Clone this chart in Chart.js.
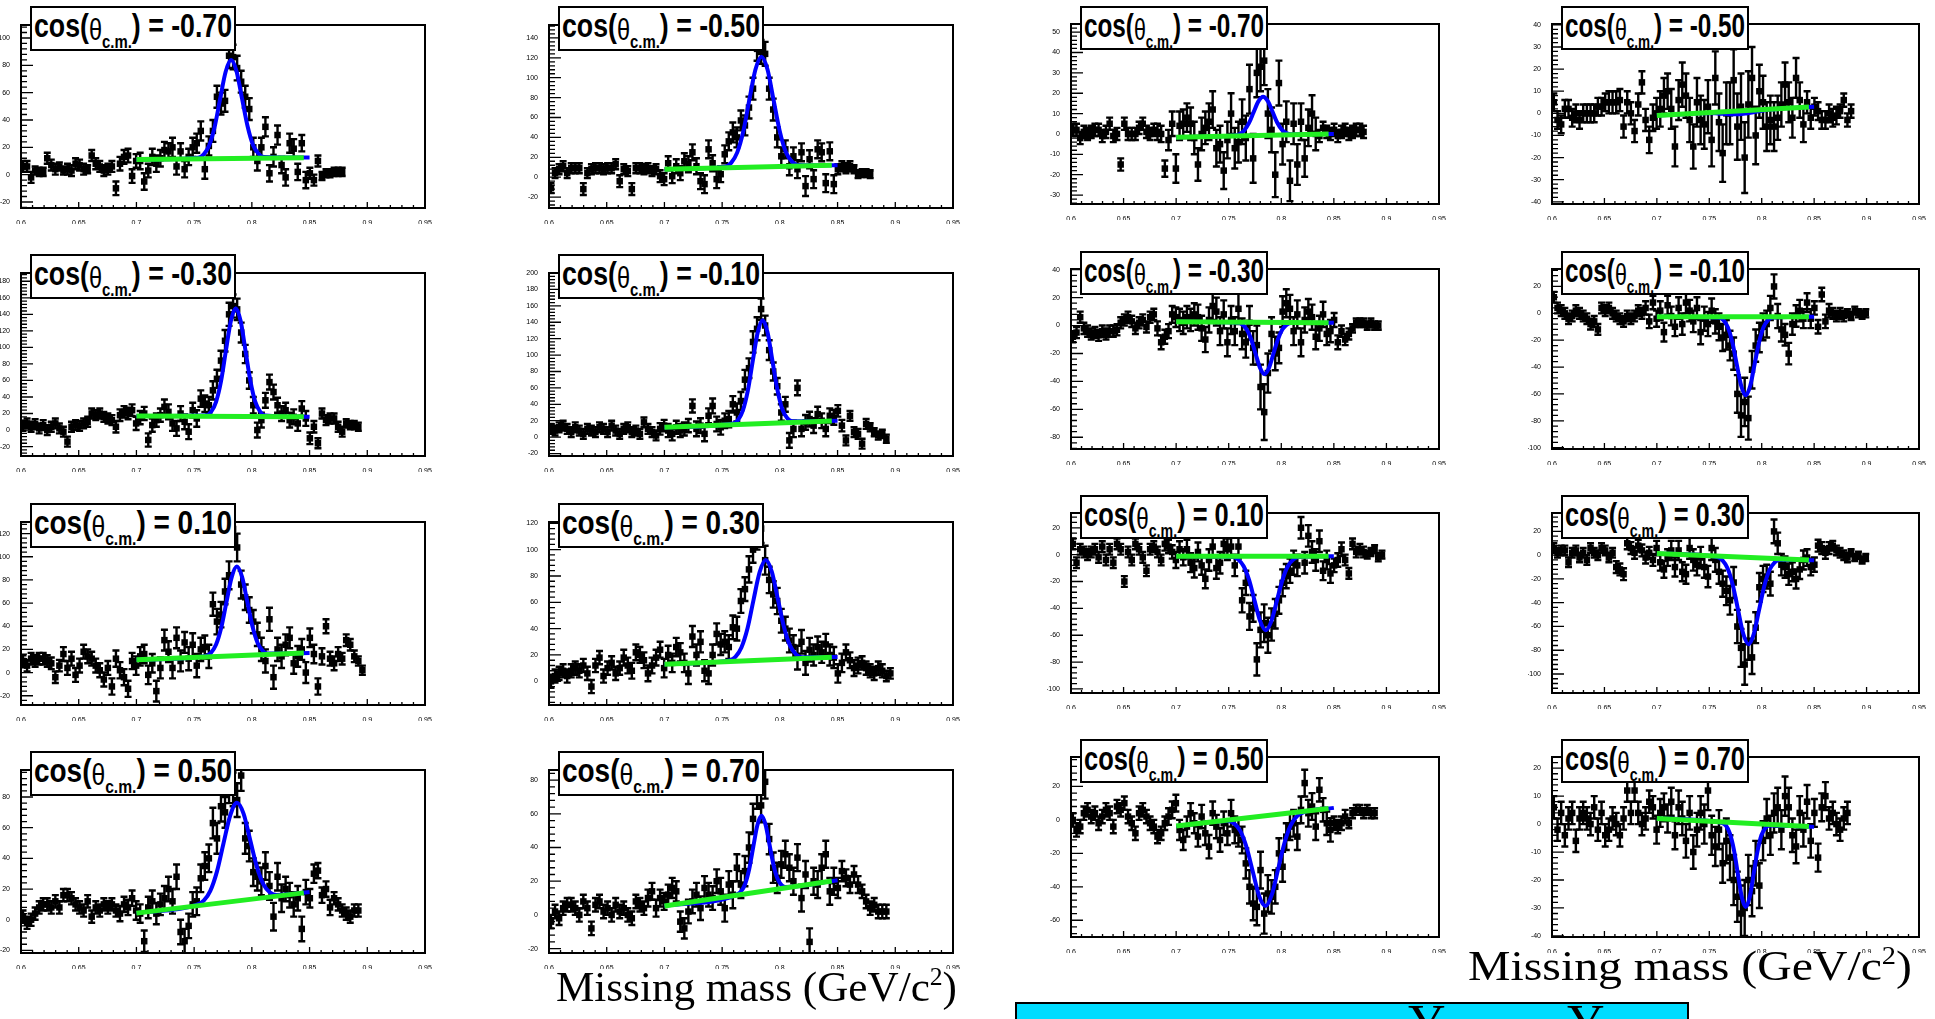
<!DOCTYPE html>
<html>
<head>
<meta charset="utf-8">
<title>Missing mass spectra</title>
<script src="https://cdn.jsdelivr.net/npm/chart.js@4.4.1/dist/chart.umd.min.js"></script>
<style>
  html, body { margin: 0; padding: 0; background: #fff; }
  #page { position: relative; width: 1935px; height: 1019px; overflow: hidden; background: #fff; }
  .pad { position: absolute; }
  .pad canvas { display: block; }
  .tag { position: absolute; z-index: 5; background: #fff; border: 2px solid #000; box-sizing: border-box; overflow: hidden; }
  .tag .tx { position: absolute; left: 2px; top: 0px; white-space: nowrap; transform-origin: 0 0;
             font-family: "Liberation Sans Narrow", "Liberation Sans", Arial, sans-serif;
             font-weight: bold; font-size: 34px; line-height: 34px; color: #000; }
  .tag .th { font-weight: normal; font-size: 30px; vertical-align: -3px; font-family: "Liberation Sans", Arial, sans-serif; }
  .tag .sb { font-size: 19px; vertical-align: -11px; }
  .title { position: absolute; z-index: 5; white-space: nowrap; transform-origin: 0 0;
           font-family: "Liberation Serif", "Times New Roman", serif; font-size: 42px; line-height: 42px; color: #000; }
  .title sup { font-size: 25px; vertical-align: 16px; line-height: 0; }
  #note { position: absolute; z-index: 5; left: 1015px; top: 1002px; width: 674px; height: 40px;
          box-sizing: border-box; background: #00dcff; border: 2px solid #000; overflow: hidden; }
  #note span { position: absolute; top: -6px; font-family: "Liberation Serif", "Times New Roman", serif;
               font-size: 52px; line-height: 52px; color: #000; }
</style>
</head>
<body>
<div id="page">
  <div class="title" data-w="401" style="left:556px; top:966px;">Missing mass (GeV/c<sup>2</sup>)</div>
  <div class="title" data-w="444" style="left:1468px; top:945px;">Missing mass (GeV/c<sup>2</sup>)</div>
  <div id="note"><span style="left:391px;">Y</span><span style="left:550px;">Y</span></div>
</div>
<script>
// histogram binning shared by all spectra (GeV/c^2)
const binLow = 0.6, binWidth = 0.0035;
const massTicks = [0.6, 0.65, 0.7, 0.75, 0.8, 0.85, 0.9, 0.95];
const cosLabels = ['-0.70', '-0.50', '-0.30', '-0.10', '0.10', '0.30', '0.50', '0.70'];
const bkgRange = [0.70, 0.845];

// ---- set A: yields with the peak ----
const countsA_m070 = [6,6,-2,3,2,2,12,7,4,6,
  3,4,3,8,7,4,4,14,8,6,
  3,4,6,-10,8,13,14,-1,10,10,
  -5,3,13,8,12,18,17,20,6,17,
  4,13,20,23,32,4,21,32,57,52,
  54,87,86,78,68,57,48,20,10,20,
  35,1,13,29,7,-2,23,19,2,23,
  -4,1,-4,10,-1,1,1,2,2,2];
const errA_m070 = [4,4,4,3,3,3,4,4,4,3,
  3,4,4,4,4,4,3,4,4,4,
  4,4,4,5,5,5,5,5,5,6,
  6,5,6,6,6,6,6,7,6,6,
  6,6,7,7,7,7,7,8,8,8,
  8,9,9,9,8,8,8,7,7,7,
  7,6,7,7,6,6,7,7,6,6,
  6,4,4,4,3,3,3,3,3,3];
const fitXA_m070 = [0.70,0.7535,0.7583,0.763,0.7678,0.7725,0.7773,0.782,0.7868,0.7915,0.7963,0.801,0.8058,0.8105,0.85];
const fitYA_m070 = [11,12.3,14.8,21.3,35.1,55.4,75.3,83.8,75.4,55.6,35.4,21.7,15.3,12.9,12.5];
const bkgA_m070 = [11, 12.45];

const countsA_m050 = [-11,4,8,11,4,9,9,9,-12,4,
  8,9,9,8,9,9,13,-4,8,6,
  -12,9,9,8,9,6,8,1,-2,14,
  1,11,4,16,13,25,11,-4,-7,28,
  14,-2,3,23,36,45,40,57,52,70,
  89,129,126,124,89,68,40,21,28,11,
  21,8,25,-9,18,-2,28,25,-6,26,
  -7,8,11,9,11,8,3,4,4,3];
const errA_m050 = [5,5,5,5,5,5,5,5,6,5,
  5,5,5,5,5,5,5,6,5,5,
  6,5,5,5,5,5,5,6,6,7,
  7,7,7,8,8,8,8,8,9,9,
  8,9,8,9,9,10,10,10,10,11,
  11,12,12,12,11,11,10,9,9,9,
  9,9,9,10,9,9,9,9,9,9,
  9,5,5,5,5,4,4,4,4,4];
const fitXA_m050 = [0.70,0.7525,0.7578,0.763,0.7683,0.7735,0.7788,0.784,0.7893,0.7945,0.7998,0.805,0.8103,0.8155,0.85];
const fitYA_m050 = [8,10.6,14.4,24.7,45.9,77.4,108.0,121.2,108.3,77.9,46.8,25.8,15.8,12.3,12];
const bkgA_m050 = [8, 11.87];

const countsA_m030 = [5,8,4,7,2,6,0,4,8,2,
  -2,-14,4,6,5,8,10,20,18,20,
  16,14,12,4,18,22,20,24,8,15,
  20,-12,6,12,18,28,22,8,2,20,
  10,-2,24,14,38,32,30,48,62,84,
  108,140,150,146,118,92,60,30,0,12,
  36,58,46,30,20,24,12,16,8,26,
  14,-10,4,-16,20,12,14,14,4,-2,
  8,6,6,4];
const errA_m030 = [6,6,6,6,6,6,6,6,6,6,
  6,6,6,6,6,6,6,6,6,6,
  6,6,6,7,7,7,7,7,8,8,
  8,8,8,8,8,9,9,9,9,9,
  9,9,9,10,10,10,10,11,11,12,
  13,14,14,13,12,11,10,10,9,9,
  9,9,9,9,9,9,9,9,9,9,
  9,7,7,6,6,6,6,6,6,6,
  5,5,5,5];
const fitXA_m030 = [0.70,0.7605,0.7648,0.769,0.7733,0.7775,0.7818,0.786,0.7903,0.7945,0.7988,0.803,0.8073,0.8115,0.85];
const fitYA_m030 = [17,18.0,22.3,34.2,59.1,96.0,132.0,147.4,131.9,95.9,58.9,34.0,22.0,17.7,16];
const bkgA_m030 = [17, 16.03];

const countsA_m010 = [10,8,12,14,10,6,12,8,4,10,
  8,6,12,10,6,14,8,4,10,12,
  6,8,4,18,10,6,2,10,14,8,
  4,12,8,10,14,38,10,14,4,26,
  38,16,12,20,22,40,30,44,70,84,
  116,132,156,136,106,80,62,30,40,-4,
  10,60,10,18,22,14,28,20,10,26,
  24,32,14,-4,26,6,4,-8,16,12,
  6,2,4,-2];
const errA_m010 = [6,6,6,6,6,6,6,6,6,6,
  6,6,6,6,6,6,6,6,6,6,
  6,6,6,6,6,6,6,7,7,8,
  8,8,8,8,8,8,9,9,9,9,
  9,9,9,9,10,10,11,11,12,12,
  13,14,13,12,12,11,10,10,9,9,
  10,9,9,9,9,9,9,9,9,9,
  9,7,7,6,6,6,6,6,6,5,
  5,5,5,5];
const fitXA_m010 = [0.70,0.7595,0.7638,0.768,0.7723,0.7765,0.7808,0.785,0.7893,0.7935,0.7978,0.802,0.8063,0.8105,0.85];
const fitYA_m010 = [12,16.6,20.9,32.6,56.9,92.6,127.4,142.5,127.9,93.5,58.2,34.4,23.2,19.3,20];
const bkgA_m010 = [12, 19.73];

const countsA_p010 = [10,6,12,10,12,12,10,8,-4,6,
  16,4,12,-2,6,18,14,12,6,2,
  -6,4,-12,12,2,-4,-14,10,6,14,
  16,-2,8,-16,4,28,18,4,30,10,
  26,12,24,6,20,22,14,59,44,50,
  70,84,124,108,76,65,54,44,33,20,
  10,46,-4,20,14,24,30,8,14,20,
  0,30,16,-12,14,40,12,8,16,12,
  28,24,14,10,2];
const errA_p010 = [5,5,5,5,5,5,5,5,5,5,
  6,6,6,6,6,6,6,6,6,6,
  6,6,7,7,7,7,7,7,8,8,
  8,8,8,9,9,9,9,9,9,9,
  9,10,10,10,10,10,10,10,11,11,
  11,12,12,12,12,11,11,10,10,10,
  10,10,10,10,10,9,9,9,9,9,
  9,8,8,7,7,6,6,6,6,5,
  5,5,5,4,4];
const fitXA_p010 = [0.70,0.76,0.7645,0.769,0.7735,0.778,0.7825,0.787,0.7915,0.796,0.8005,0.805,0.8095,0.814,0.85];
const fitYA_p010 = [11,14.3,17.0,24.2,38.9,60.9,82.2,91.5,82.6,61.6,40.0,25.6,18.8,16.4,17];
const bkgA_p010 = [11, 16.8];

const countsA_p030 = [0,4,6,8,4,8,10,8,12,6,
  -4,12,18,4,10,14,6,10,18,12,
  8,22,20,16,6,12,18,24,10,20,
  14,26,22,14,6,34,20,30,8,6,
  20,36,28,30,26,41,40,61,70,85,
  100,110,116,92,77,66,61,46,40,31,
  26,18,30,14,24,20,26,22,28,20,
  18,6,14,22,16,10,12,14,10,8,
  6,10,8,4,6];
const errA_p030 = [5,5,5,5,5,5,5,5,5,5,
  5,5,5,5,5,5,5,5,6,6,
  6,6,6,6,6,6,6,6,7,7,
  7,7,7,7,8,8,8,8,8,8,
  8,8,8,8,9,9,9,9,9,10,
  10,10,11,11,10,10,10,9,9,9,
  9,9,9,9,9,8,8,8,8,8,
  8,7,7,6,6,6,6,5,5,5,
  5,5,5,4,4];
const fitXA_p030 = [0.70,0.7562,0.7615,0.7667,0.772,0.7772,0.7825,0.7877,0.793,0.7982,0.8035,0.8087,0.814,0.8192,0.85];
const fitYA_p030 = [13,15.9,18.6,25.7,40.3,61.9,83.0,92.2,83.4,62.7,41.5,27.3,20.5,18.2,18.5];
const bkgA_p030 = [13, 18.3];

const countsA_p050 = [2,-2,0,4,8,10,10,8,12,8,
  16,16,14,10,8,6,12,2,8,6,
  10,8,10,6,4,10,8,14,6,4,
  -14,8,12,4,10,14,20,12,28,-8,
  -14,-4,10,12,27,35,40,63,53,74,
  70,87,85,78,94,53,48,31,28,25,
  35,22,2,28,14,20,16,10,14,-6,
  18,14,30,32,16,20,8,14,10,6,
  4,2,6,6];
const errA_p050 = [4,4,4,4,4,4,4,4,4,4,
  4,4,4,4,4,4,4,4,4,4,
  4,4,4,4,5,5,5,5,6,6,
  7,7,7,7,7,8,8,8,8,8,
  8,8,8,9,9,9,9,10,10,10,
  10,11,11,11,10,10,10,9,9,9,
  9,9,9,9,9,8,8,8,8,8,
  8,6,6,5,5,5,5,4,4,4,
  4,4,4,4];
const fitXA_p050 = [0.70,0.7525,0.7583,0.764,0.7698,0.7755,0.7813,0.787,0.7928,0.7985,0.8043,0.81,0.8158,0.8215,0.85];
const fitYA_p050 = [4.3,9.8,12.4,18.8,31.5,50.0,68.1,76.3,69.2,52.1,34.6,23.0,17.7,16.1,18];
const bkgA_p050 = [4.3, 17.5];

const countsA_p070 = [-4,2,-2,4,6,6,4,0,8,4,
  -8,6,8,2,4,0,6,2,4,0,
  -2,8,6,4,10,14,4,10,8,12,
  16,14,-4,-8,2,8,12,4,16,12,
  10,20,14,4,18,12,28,18,26,40,
  57,73,65,79,45,28,22,30,36,28,
  20,34,10,24,-16,20,18,28,36,14,
  20,16,26,22,18,24,18,14,8,4,
  6,2,2,2];
const errA_p070 = [4,4,4,4,4,4,4,4,4,4,
  4,4,4,4,4,4,4,4,4,4,
  4,4,4,4,5,5,5,5,5,6,
  6,6,6,6,7,7,7,7,7,7,
  7,7,8,8,8,8,8,8,9,9,
  9,10,10,10,9,9,9,8,8,8,
  8,8,8,8,8,8,8,8,8,8,
  8,6,6,5,5,5,5,4,4,4,
  4,4,4,4];
const fitXA_p070 = [0.70,0.763,0.7665,0.77,0.7735,0.777,0.7805,0.784,0.7875,0.791,0.7945,0.798,0.8015,0.805,0.85];
const fitYA_p070 = [5.3,12.2,14.1,18.5,27.4,40.5,53.2,58.9,53.9,41.9,29.6,21.4,17.6,16.5,20.6];
const bkgA_p070 = [5.3, 20.1];

// ---- set B: yields with the dip ----
const countsB_m070 = [2,2,-2,1,0,1,2,2,-1,1,
  5,-1,0,-15,5,0,0,0,3,5,
  1,0,2,1,0,-17,-3,5,-17,4,
  5,8,5,-2,-15,0,3,6,12,-7,
  -5,-18,-3,10,-7,-4,6,-2,22,-12,
  30,33,36,10,2,-20,25,-5,6,-23,
  5,-15,6,-12,3,10,0,-1,3,1,
  0,2,-1,1,2,0,1,2,2,1];
const errB_m070 = [3,3,3,3,3,3,3,3,3,3,
  3,3,3,3,3,3,3,3,3,3,
  3,3,3,4,4,4,5,6,7,7,
  7,7,8,8,8,8,8,9,9,9,
  9,9,9,10,10,10,11,11,12,12,
  12,12,12,12,11,11,11,10,10,10,
  10,10,9,9,9,9,8,3,3,3,
  3,3,3,3,3,3,3,3,3,3];
const fitXB_m070 = [0.70,0.7557,0.7602,0.7647,0.7692,0.7737,0.7782,0.7827,0.7872,0.7917,0.7962,0.8007,0.8052,0.8097,0.85];
const fitYB_m070 = [-1.6,-0.8,-0.1,1.7,5.3,10.7,16.0,18.3,16.1,10.9,5.5,2.0,0.3,-0.2,0];
const bkgB_m070 = [-1.6, -0.05];

const countsB_m050 = [5,-3,-5,2,2,-2,0,-3,0,0,
  0,0,3,3,5,5,5,5,6,-6,
  5,0,-8,4,14,-3,-12,-2,0,2,
  8,10,2,-15,6,13,8,-3,-15,5,
  -3,-5,3,-12,16,-4,-18,0,0,15,
  -6,3,-20,4,16,-10,10,5,-6,-3,
  -6,-2,4,13,5,-2,16,6,-5,5,
  -2,3,1,-3,-3,0,-2,-1,1,6,
  -3,1];
const errB_m050 = [4,4,4,4,4,4,4,4,4,4,
  4,4,4,4,4,5,5,5,5,5,
  5,5,5,5,5,5,6,6,7,8,
  8,8,9,9,9,10,10,10,10,11,
  11,11,12,12,12,13,13,14,14,14,
  15,15,16,15,14,13,12,12,11,11,
  11,10,10,10,9,9,9,8,8,5,
  5,4,4,4,4,4,4,4,3,3,
  3,3];
const fitXB_m050 = [0.70,0.733,0.7405,0.748,0.7555,0.763,0.7705,0.778,0.7855,0.793,0.8005,0.808,0.8155,0.823,0.85];
const fitYB_m050 = [-1,-0.14,0.01,0.08,-0.01,-0.23,-0.44,-0.42,-0.04,0.57,1.19,1.68,2.01,2.26,3];
const bkgB_m050 = [-1, 2.87];

const countsB_m030 = [-8,-5,6,-2,-4,-6,-5,-7,-4,-6,
  -4,-4,-3,2,4,6,3,-2,2,4,
  -1,6,8,-2,-12,-8,-4,8,6,4,
  2,6,4,8,6,-2,-10,4,14,10,
  -4,8,-12,4,-4,12,-6,-12,2,-16,
  -14,-44,-62,-34,-6,-20,-16,10,16,12,
  -4,8,-12,4,10,6,-8,-2,8,-6,
  -4,4,-12,-4,-10,-6,-2,2,2,2,
  0,2,0,0];
const errB_m030 = [4,4,4,4,4,4,4,4,4,4,
  4,4,4,4,4,4,4,4,4,4,
  4,4,4,5,5,5,5,6,7,8,
  8,8,8,8,9,9,9,9,10,10,
  10,10,10,10,10,11,11,11,12,12,
  14,16,20,14,12,12,11,11,10,10,
  10,10,10,9,9,9,9,9,9,8,
  8,5,5,4,4,4,3,3,3,3,
  3,3,3,3];
const fitXB_m030 = [0.70,0.7585,0.7628,0.767,0.7713,0.7755,0.7798,0.784,0.7883,0.7925,0.7968,0.801,0.8053,0.8095,0.85];
const fitYB_m030 = [2.7,2.0,0.8,-2.6,-9.6,-20.1,-30.3,-34.7,-30.3,-20.2,-9.8,-2.8,0.6,1.8,2];
const bkgB_m030 = [2.7, 2.02];

const countsB_m010 = [12,4,2,0,-4,-2,2,0,-2,-4,
  -8,-6,-12,4,2,4,0,-2,-4,-6,
  -2,-4,-2,2,0,4,-6,8,-4,2,
  -14,6,-2,-10,4,-8,8,2,-6,4,
  -14,-4,-8,2,-6,-10,-18,-16,-24,-30,
  -60,-76,-66,-78,-42,-24,-18,-10,-8,4,
  20,-2,-12,-16,-30,-8,-2,2,-4,8,
  -4,4,-10,14,-6,2,0,-2,0,-2,
  0,-2,2,0,-1,0];
const errB_m010 = [4,4,4,4,4,4,4,4,4,4,
  4,4,4,4,4,4,4,4,4,4,
  4,4,4,4,4,5,5,5,6,7,
  7,7,7,7,8,8,8,8,8,8,
  9,9,9,9,9,10,10,11,11,12,
  14,16,18,16,14,12,11,10,10,9,
  9,9,9,8,8,8,8,8,7,7,
  7,5,5,5,5,5,4,4,4,4,
  3,3,3,3,3,3];
const fitXB_m010 = [0.70,0.7592,0.7635,0.7677,0.772,0.7762,0.7805,0.7847,0.789,0.7932,0.7975,0.8017,0.806,0.8102,0.85];
const fitYB_m010 = [-2.5,-3.1,-5.1,-10.4,-21.5,-38.0,-54.1,-61.0,-54.1,-38.0,-21.5,-10.4,-5.1,-3.1,-2.5];
const bkgB_m010 = [-2.5, -2.5];

const countsB_p010 = [8,-6,4,2,0,2,4,-2,6,-4,
  4,-6,8,4,-20,2,-4,8,4,-2,
  -12,4,6,2,-4,8,6,2,-4,4,
  -2,4,-6,-10,2,-8,-18,-4,6,-10,
  -6,8,4,6,-8,6,-34,-21,-46,-40,
  -78,-56,-51,-60,-52,-44,-34,-21,-16,-12,
  -6,-8,20,-6,14,2,-4,10,-12,-4,
  -14,-8,-4,4,-4,-14,8,2,4,2,
  0,2,4,-2,0];
const errB_p010 = [4,4,4,4,4,4,4,4,4,4,
  4,4,4,4,4,4,4,4,4,4,
  4,4,4,4,4,5,5,5,6,6,
  6,7,7,7,7,7,7,8,8,8,
  8,8,8,8,8,9,9,9,10,10,
  12,13,14,13,12,11,10,10,9,9,
  9,8,8,8,8,8,8,8,7,7,
  7,5,5,5,4,4,4,4,4,4,
  3,3,3,3,3];
const fitXB_p010 = [0.70,0.7537,0.759,0.7642,0.7695,0.7747,0.78,0.7852,0.7905,0.7957,0.801,0.8062,0.8115,0.8167,0.85];
const fitYB_p010 = [-1.2,-1.8,-3.6,-8.6,-19.1,-34.6,-49.7,-56.2,-49.7,-34.6,-19.1,-8.6,-3.6,-1.8,-1.2];
const bkgB_p010 = [-1.2, -1.2];

const countsB_p030 = [6,2,4,4,-6,2,4,-2,2,-4,
  6,2,0,6,4,-2,2,-10,-12,-16,
  10,6,2,8,4,-2,2,-4,6,-6,
  -12,-2,4,-10,4,-14,-16,6,-4,-8,
  -2,-10,-18,6,-4,-14,-24,-30,-38,-23,
  -60,-78,-92,-72,-86,-61,-27,-20,-18,-24,
  20,10,-8,-10,-16,-14,-20,-12,-4,-2,
  -10,-8,8,6,2,6,8,4,2,0,
  -2,2,-2,0,-4,-2];
const errB_p030 = [4,4,4,4,4,4,4,4,4,4,
  4,4,4,4,4,4,4,5,5,5,
  5,5,5,5,5,5,5,5,6,7,
  7,7,8,8,8,8,8,9,9,9,
  9,9,9,10,10,10,11,12,12,13,
  14,16,17,16,14,13,12,11,10,10,
  10,9,9,9,9,8,8,8,8,7,
  7,6,5,5,5,5,4,4,4,4,
  4,3,3,3,3,3];
const fitXB_p030 = [0.70,0.7574,0.7624,0.7674,0.7724,0.7774,0.7824,0.7874,0.7924,0.7974,0.8024,0.8074,0.8124,0.8174,0.85];
const fitYB_p030 = [1.4,-1.5,-4.1,-11.0,-25.0,-45.8,-66.1,-74.9,-66.4,-46.5,-26.1,-12.5,-6.0,-3.8,-4.2];
const bkgB_p030 = [1.4, -4.0];

const countsB_p050 = [0,-6,-4,4,6,2,4,-2,2,6,
  4,-4,8,6,10,2,-2,-8,4,6,
  2,-2,-4,-10,-8,-2,2,6,10,-6,
  -12,-4,4,-2,-10,2,-8,-16,4,-4,
  -12,-2,-8,4,-6,-8,-12,-26,-40,-50,
  -52,-30,-56,-44,-46,-40,-20,-28,-10,-4,
  -2,-10,6,22,4,8,-4,18,6,-2,
  -6,-2,-4,-2,2,-2,4,6,6,4,
  6,4,4];
const errB_p050 = [4,4,4,4,4,4,4,4,4,4,
  4,4,4,4,4,4,4,4,4,4,
  4,4,4,4,4,4,5,5,5,6,
  6,6,6,6,6,7,7,7,7,7,
  7,7,7,8,8,8,8,9,10,10,
  11,11,12,11,10,10,9,9,8,8,
  8,8,8,8,8,8,8,7,7,7,
  7,4,4,4,4,3,3,3,3,3,
  3,3,3];
const fitXB_p050 = [0.70,0.749,0.755,0.761,0.767,0.773,0.779,0.785,0.791,0.797,0.803,0.809,0.815,0.821,0.85];
const fitYB_p050 = [-3.7,-0.7,-2.1,-6.6,-16.4,-31.2,-45.6,-51.5,-44.7,-29.4,-13.8,-3.1,2.3,4.5,7.2];
const bkgB_p050 = [-3.7, 6.84];

const countsB_p070 = [6,-2,4,-4,2,4,-6,2,4,2,
  0,6,-2,4,-4,-2,2,0,-4,2,
  12,4,12,4,0,2,8,6,-2,4,
  6,2,8,-4,6,2,-6,4,-10,-2,
  4,0,12,-4,-8,-2,-14,-6,-12,-20,
  -26,-32,-30,-20,-24,-14,-22,-6,2,-4,
  4,6,-2,10,6,-4,-8,4,-2,8,
  -6,4,-12,6,10,2,4,0,-2,2,
  4];
const errB_p070 = [4,4,4,4,4,4,4,4,4,4,
  4,4,4,4,4,4,4,4,4,4,
  4,4,4,4,4,4,4,4,5,5,
  5,5,5,5,6,6,6,6,6,6,
  6,7,7,7,7,7,7,8,8,9,
  9,10,10,9,9,8,8,7,7,7,
  7,7,7,7,7,6,6,6,6,6,
  6,5,5,5,5,4,4,4,4,4,
  4];
const fitXB_p070 = [0.70,0.7622,0.766,0.7697,0.7735,0.7772,0.781,0.7847,0.7885,0.7922,0.796,0.7997,0.8035,0.8072,0.85];
const fitYB_p070 = [2,0.4,-0.6,-3.4,-9.2,-17.7,-26.1,-29.7,-26.2,-18.1,-9.7,-4.0,-1.4,-0.5,-1];
const bkgB_p070 = [2, -0.9];

// ---- pad layout ----
const AXW = 24, AXH = 16, PADT = 8, PADR = 14;
const colA = [[21, 404], [549, 404]], colB = [[1071, 368], [1552, 367]];
const rowA = [25, 273, 522, 770], rowB = [24, 269, 513, 757];

const setA = [
  [countsA_m070, errA_m070, fitXA_m070, fitYA_m070, bkgA_m070, -24.4, 109.5, 20],
  [countsA_m050, errA_m050, fitXA_m050, fitYA_m050, bkgA_m050, -31, 153, 20],
  [countsA_m030, errA_m030, fitXA_m030, fitYA_m030, bkgA_m030, -31.4, 190, 20],
  [countsA_m010, errA_m010, fitXA_m010, fitYA_m010, bkgA_m010, -23, 200, 20],
  [countsA_p010, errA_p010, fitXA_p010, fitYA_p010, bkgA_p010, -28, 130, 20],
  [countsA_p030, errA_p030, fitXA_p030, fitYA_p030, bkgA_p030, -18, 121, 20],
  [countsA_p050, errA_p050, fitXA_p050, fitYA_p050, bkgA_p050, -21.7, 97.6, 20],
  [countsA_p070, errA_p070, fitXA_p070, fitYA_p070, bkgA_p070, -22.6, 86, 20]
];
const setB = [
  [countsB_m070, errB_m070, fitXB_m070, fitYB_m070, bkgB_m070, -34.4, 54, 10],
  [countsB_m050, errB_m050, fitXB_m050, fitYB_m050, bkgB_m050, -41, 40.4, 10],
  [countsB_m030, errB_m030, fitXB_m030, fitYB_m030, bkgB_m030, -88.4, 40.5, 20],
  [countsB_m010, errB_m010, fitXB_m010, fitYB_m010, bkgB_m010, -101, 33, 20],
  [countsB_p010, errB_p010, fitXB_p010, fitYB_p010, bkgB_p010, -103, 31, 20],
  [countsB_p030, errB_p030, fitXB_p030, fitYB_p030, bkgB_p030, -116, 35.5, 20],
  [countsB_p050, errB_p050, fitXB_p050, fitYB_p050, bkgB_p050, -70, 37.6, 20],
  [countsB_p070, errB_p070, fitXB_p070, fitYB_p070, bkgB_p070, -40.4, 24, 10]
];

// vertical error bars with end caps, drawn under the markers
const errorBars = {
  id: 'errorBars',
  beforeDatasetsDraw(chart) {
    const ds = chart.data.datasets[2];
    const meta = chart.getDatasetMeta(2);
    const { ctx, chartArea: a, scales: { y } } = chart;
    ctx.save();
    ctx.beginPath();
    ctx.rect(a.left, a.top, a.right - a.left, a.bottom - a.top);
    ctx.clip();
    ctx.strokeStyle = '#000';
    ctx.lineWidth = 2.4;
    meta.data.forEach((pt, i) => {
      const v = ds.data[i].y, e = ds.errors[i];
      const top = y.getPixelForValue(v + e), bot = y.getPixelForValue(v - e);
      ctx.beginPath();
      ctx.moveTo(pt.x, top); ctx.lineTo(pt.x, bot);
      ctx.moveTo(pt.x - 3.5, top); ctx.lineTo(pt.x + 3.5, top);
      ctx.moveTo(pt.x - 3.5, bot); ctx.lineTo(pt.x + 3.5, bot);
      ctx.stroke();
    });
    ctx.restore();
  }
};

// frame box plus inward major/minor ticks
const frameTicks = {
  id: 'frameTicks',
  afterDraw(chart) {
    const { ctx, chartArea: a, scales: { x, y } } = chart;
    const step = chart.options.scales.y.yStep;
    ctx.save();
    ctx.strokeStyle = '#000';
    ctx.lineWidth = 1.3;
    ctx.beginPath();
    for (let k = 0; k <= 35; k++) {
      const px = x.getPixelForValue(0.6 + k * 0.01);
      const len = k % 5 === 0 ? 6 : 3;
      ctx.moveTo(px, a.bottom); ctx.lineTo(px, a.bottom - len);
    }
    const minor = step / 5;
    for (let k = Math.ceil(y.min / minor); k * minor <= y.max; k++) {
      const py = y.getPixelForValue(k * minor);
      const len = k % 5 === 0 ? 12 : 6;
      ctx.moveTo(a.left, py); ctx.lineTo(a.left + len, py);
    }
    ctx.stroke();
    ctx.lineWidth = 2;
    ctx.strokeRect(a.left, a.top, a.right - a.left, a.bottom - a.top);
    ctx.restore();
  }
};

const page = document.getElementById('page');

function makeChart(cv, spec) {
  const [counts, errs, fitX, fitY, bkg, yMin, yMax, yStep] = spec;
  const points = counts.map((v, i) => ({ x: binLow + (i + 0.5) * binWidth, y: v }));
  const fit = fitX.map((m, i) => ({ x: m, y: fitY[i] }));
  const back = bkgRange.map((m, i) => ({ x: m, y: bkg[i] }));
  const tickFont = { family: '"Liberation Sans", Arial, sans-serif', size: 7 };
  return new Chart(cv, {
    type: 'line',
    data: {
      datasets: [
        { data: back, order: 0, borderColor: '#22ee22', borderWidth: 5, pointRadius: 0, fill: false },
        { data: fit, order: 1, borderColor: '#0000ff', borderWidth: 4, pointRadius: 0, fill: false,
          cubicInterpolationMode: 'monotone' },
        { data: points, order: 2, errors: errs, showLine: false, pointStyle: 'rect', pointRadius: 4.6,
          pointBackgroundColor: '#000', pointBorderWidth: 0 }
      ]
    },
    options: {
      responsive: false,
      maintainAspectRatio: false,
      animation: false,
      devicePixelRatio: 1,
      events: [],
      layout: { padding: { left: 0, right: PADR, top: PADT, bottom: 0 } },
      plugins: { legend: { display: false }, tooltip: { enabled: false } },
      scales: {
        x: {
          type: 'linear', min: 0.6, max: 0.95,
          afterFit(s) { s.height = AXH; },
          afterBuildTicks(s) { s.ticks = massTicks.map(v => ({ value: v })); },
          ticks: { font: tickFont, color: '#000', padding: 3, autoSkip: false, maxRotation: 0, minRotation: 0,
                   callback: v => String(Math.round(v * 100) / 100) },
          grid: { display: false }, border: { display: false }
        },
        y: {
          type: 'linear', min: yMin, max: yMax, yStep: yStep,
          afterFit(s) { s.width = AXW; },
          afterBuildTicks(s) {
            const t = [];
            for (let k = Math.ceil(yMin / yStep); k * yStep <= yMax; k++) t.push({ value: k * yStep });
            s.ticks = t;
          },
          ticks: { font: tickFont, color: '#000', padding: 3, callback: v => String(Math.round(v)) },
          grid: { display: false }, border: { display: false }
        }
      }
    },
    plugins: [errorBars, frameTicks]
  });
}

function buildPad(spec, fl, ft, fw, fh) {
  const wrap = document.createElement('div');
  wrap.className = 'pad';
  page.appendChild(wrap);
  const cv = document.createElement('canvas');
  wrap.appendChild(cv);
  let W = fw + AXW + PADR, H = fh + PADT + AXH;
  const size = () => { cv.width = W; cv.height = H; cv.style.width = W + 'px'; cv.style.height = H + 'px'; };
  size();
  let chart = makeChart(cv, spec);
  let ca = chart.chartArea;
  const dw = Math.round(fw - (ca.right - ca.left)), dh = Math.round(fh - (ca.bottom - ca.top));
  if (dw || dh) {
    chart.destroy();
    W += dw; H += dh; size();
    chart = makeChart(cv, spec);
    ca = chart.chartArea;
  }
  wrap.style.left = (fl - ca.left) + 'px';
  wrap.style.top = (ft - ca.top) + 'px';
}

function fitWidth(el, target) {
  const w = el.getBoundingClientRect().width;
  if (w > 0) el.style.transform = 'scaleX(' + (target / w) + ')';
}

function buildTag(text, left, top, w, h) {
  const box = document.createElement('div');
  box.className = 'tag';
  box.style.left = left + 'px'; box.style.top = top + 'px';
  box.style.width = w + 'px'; box.style.height = h + 'px';
  const tx = document.createElement('span');
  tx.className = 'tx';
  const th = document.createElement('span'); th.className = 'th'; th.textContent = '\u03b8';
  const sb = document.createElement('span'); sb.className = 'sb'; sb.textContent = 'c.m.';
  tx.append('cos(', th, sb, ') = ' + text);
  box.appendChild(tx);
  page.appendChild(box);
  fitWidth(tx, w - 8);
}

for (let r = 0; r < 4; r++) {
  for (let c = 0; c < 2; c++) {
    const n = r * 2 + c;
    const [al, aw] = colA[c], [bl, bw] = colB[c];
    buildPad(setA[n], al, rowA[r], aw, 183);
    buildPad(setB[n], bl, rowB[r], bw, 180);
    buildTag(cosLabels[n], al + 9, rowA[r] - 19, 206, 45);
    buildTag(cosLabels[n], bl + 9, rowB[r] - 18, 188, 44);
  }
}

document.querySelectorAll('.title').forEach(el => fitWidth(el, +el.dataset.w));
</script>
</body>
</html>
